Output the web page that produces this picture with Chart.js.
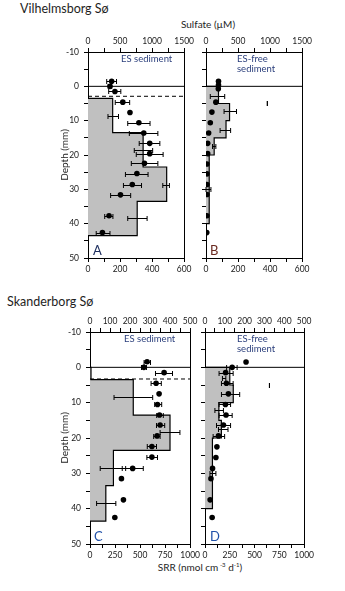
<!DOCTYPE html>
<html><head><meta charset="utf-8">
<script src="https://cdn.jsdelivr.net/npm/chart.js@4.4.1/dist/chart.umd.min.js"></script>
<style>
body{margin:0;background:#fff;width:345px;height:591px;position:relative;overflow:hidden;font-family:Lato,'Open Sans',sans-serif;}
canvas{position:absolute;}
.t{position:absolute;white-space:nowrap;color:#1e1e1e;line-height:1;}
.lbl{position:absolute;white-space:nowrap;color:#2b3f7c;font-size:9.5px;line-height:1;}
.let{position:absolute;font-size:13px;line-height:1;}
</style></head><body>
<div class="t" style="left:20px;top:3px;font-size:12.5px;">Vilhelmsborg Sø</div>
<div class="t" style="left:180px;top:19px;font-size:10px;width:56px;text-align:center;">Sulfate (µM)</div>
<div class="t" style="left:7px;top:296px;font-size:12.5px;">Skanderborg Sø</div>
<div class="t" style="left:150px;top:562px;font-size:10px;width:100px;text-align:center;">SRR (nmol cm<sup style="font-size:6px;vertical-align:4px;"> -3</sup> d<sup style="font-size:6px;vertical-align:4px;">-1</sup>)</div>

<canvas id="cA" width="141" height="250" style="left:55px;top:30px;"></canvas>
<canvas id="cB" width="118" height="250" style="left:196px;top:30px;"></canvas>
<canvas id="cC" width="147" height="256" style="left:55px;top:310px;"></canvas>
<canvas id="cD" width="121" height="256" style="left:195px;top:310px;"></canvas>

<div class="lbl" style="left:121px;top:54px;">ES sediment</div>
<div class="lbl" style="left:237px;top:54px;">ES-free</div>
<div class="lbl" style="left:237px;top:64px;">sediment</div>
<div class="lbl" style="left:124px;top:334px;">ES sediment</div>
<div class="lbl" style="left:237px;top:334px;">ES-free</div>
<div class="lbl" style="left:237px;top:344px;">sediment</div>
<div class="let" style="left:93px;top:244px;color:#1f3060;">A</div>
<div class="let" style="left:210px;top:244px;color:#6a2a20;">B</div>
<div class="let" style="left:94px;top:530px;color:#2050a8;">C</div>
<div class="let" style="left:210px;top:530px;color:#2050a8;">D</div>

<script>
// ---------- Vilhelmsborg Sø, ES sediment (A) ----------
const vesDepth   = [-1.5, 0, 1.5, 4.6, 7.6, 10.6, 13.6, 16.6, 19.6, 22.4, 25.4, 28.6, 31.6, 37.7, 42.6];
const vesSulfate = [369, 343, 420, 543, 655, 794, 870, 963, 963, 881, 763, 691, 507, 328, 225];
const vesErrDepth = [-1.5, 0, 1.5, 4.6, 8.6, 10.6, 13.6, 16.6, 18.4, 19.6, 22.4, 25.4, 28.6, 28.6, 31.6, 37.7, 38.4, 42.6];
const vesErrLow   = [292, 315, 323, 425, 312, 620, 645, 799, 722, 753, 676, 584, 553, 1167, 353, 261, 620, 128];
const vesErrHigh  = [445, 370, 512, 650, 476, 968, 1090, 1121, 1009, 1172, 1090, 937, 835, 1270, 666, 389, 922, 343];
const vesSrrTop    = [3.5, 13.5, 23.5, 33.5];
const vesSrrBottom = [13.5, 23.5, 33.5, 43.5];
const vesSrr       = [154, 344, 491, 307];
const vesLayerDepth = 2.9;

// ---------- Vilhelmsborg Sø, ES-free sediment (B) ----------
const vfDepth   = [-1.5, -0.4, 0.7, 4.6, 7.5, 10.6, 13.6, 16.6, 19.6, 22.6, 25.5, 28.6, 31.5, 37.7, 42.6];
const vfSulfate = [195, 195, 192, 154, 92, 67, 41, 26, 26, 15, 15, 15, 15, 15, 12];
const vfErrDepth = [2.7, 7.3, 12.8, 17.5, 30.0, 4.9];
const vfErrLow   = [67, 282, 220, 102, 0, 957];
const vfErrHigh  = [292, 476, 384, 154, 77, 957];
const vfSrrTop    = [0, 5, 10, 15, 20];
const vfSrrBottom = [5, 10, 15, 20, 40];
const vfSrr       = [78, 147, 125, 51, 20];

// ---------- Skanderborg Sø, ES sediment (C) ----------
const sesDepth   = [-1.6, 0, 1.5, 4.5, 7.5, 10.5, 13.5, 16.3, 19.4, 22.4, 25.4, 28.6, 31.5, 37.5, 42.5];
const sesSulfate = [285, 269, 370, 330, 345, 337, 347, 350, 335, 309, 309, 213, 157, 167, 124];
const sesErrDepth = [-1.6, 0, 1.5, 4.5, 8.3, 10.5, 13.5, 16.3, 18.3, 19.4, 22.4, 25.4, 28.6, 28.6, 38.5];
const sesErrLow   = [270, 257, 327, 305, 120, 323, 333, 332, 350, 318, 286, 284, 51, 161, 33];
const sesErrHigh  = [302, 282, 412, 356, 313, 358, 366, 373, 449, 350, 332, 337, 178, 266, 129];
const sesSrrTop    = [0, 3.5, 13.5, 23.5, 33.5];
const sesSrrBottom = [3.5, 13.5, 23.5, 33.5, 43.5];
const sesSrr       = [10, 432, 799, 234, 158];
const sesLayerDepth = 3.3;

// ---------- Skanderborg Sø, ES-free sediment (D) ----------
const sfDepth   = [-1.5, 0, 1.5, 4.5, 7.5, 10.5, 13.5, 16.3, 19.4, 22.5, 25.5, 28.6, 31.5, 37.5, 42.5];
const sfSulfate = [207, 137, 104, 108, 118, 103, 106, 93, 68, 60, 55, 38, 30, 26, 36];
const sfErrDepth = [0, 1.5, 3.0, 4.5, 7.5, 10.5, 12.2, 13.5, 16.3, 17.4, 19.4, 29.8, 5.0];
const sfErrLow   = [109, 71, 88, 83, 83, 71, 50, 71, 58, 68, 41, 25, 325];
const sfErrHigh  = [162, 142, 105, 142, 175, 129, 93, 137, 129, 116, 99, 55, 325];
const sfSrrTop    = [0, 5, 10, 15, 20];
const sfSrrBottom = [5, 10, 15, 20, 40];
const sfSrr       = [250, 285, 140, 165, 75];

// axis ranges / tick labels
const depthRange = [-10, 50];
const vilSulfateTicks = {max: 1500, step: 250, label: 500};
const vilSrrTicks     = {max: 600, step: 100, label: 200};
const skaSulfateTicks = {max: 500, step: 50, label: 100};
const skaSrrTicks     = {max: 1000, step: 125, label: 250};

const FONT = "Lato, 'Open Sans', sans-serif";
const INK = '#1a1a1a';

const errPlugin = {
  id: 'errbars',
  afterDatasetsDraw(chart, args, opts) {
    const xs = chart.scales.sul, ys = chart.scales.y, ctx = chart.ctx;
    ctx.save();
    ctx.strokeStyle = '#000'; ctx.lineWidth = 1;
    for (let i = 0; i < opts.depth.length; i++) {
      const y = Math.round(ys.getPixelForValue(opts.depth[i])) + 0.5;
      const x1 = xs.getPixelForValue(opts.lo[i]), x2 = xs.getPixelForValue(opts.hi[i]);
      ctx.beginPath();
      ctx.moveTo(x1, y); ctx.lineTo(x2, y);
      ctx.moveTo(x1, y - 2.5); ctx.lineTo(x1, y + 2.5);
      ctx.moveTo(x2, y - 2.5); ctx.lineTo(x2, y + 2.5);
      ctx.stroke();
    }
    ctx.restore();
  }
};
const framePlugin = {
  id: 'frame',
  afterDraw(chart) {
    const a = chart.chartArea, ctx = chart.ctx;
    ctx.save(); ctx.strokeStyle = '#000'; ctx.lineWidth = 1;
    ctx.beginPath();
    ctx.moveTo(Math.round(a.right) + 0.5, a.top); ctx.lineTo(Math.round(a.right) + 0.5, a.bottom);
    ctx.stroke(); ctx.restore();
  }
};

function stepPoints(tops, bottoms, vals) {
  const pts = [{x: 0, y: tops[0]}];
  for (let i = 0; i < vals.length; i++) {
    pts.push({x: vals[i], y: tops[i]});
    pts.push({x: vals[i], y: bottoms[i]});
  }
  pts.push({x: 0, y: bottoms[bottoms.length - 1]});
  return pts;
}

function makePanel(id, p) {
  const datasets = [
    {
      data: p.depth.map((d, i) => ({x: p.sulfate[i], y: d})),
      xAxisID: 'sul', yAxisID: 'y', showLine: false,
      pointRadius: 2.8, pointBackgroundColor: '#000', pointBorderColor: '#000', pointBorderWidth: 0, order: 0
    },
    {
      data: [{x: 0, y: 0}, {x: p.srrTicks.max, y: 0}],
      xAxisID: 'srr', yAxisID: 'y', borderColor: '#000', borderWidth: 1, pointRadius: 0, fill: false, order: 1
    },
    {
      data: stepPoints(p.srrTop, p.srrBottom, p.srr),
      xAxisID: 'srr', yAxisID: 'y', borderColor: '#000', borderWidth: 1.2,
      backgroundColor: '#c0c0c0', pointRadius: 0, fill: 'origin', tension: 0, order: 3
    }
  ];
  if (p.layer != null) {
    datasets.push({
      data: [{x: 0, y: p.layer}, {x: p.srrTicks.max, y: p.layer}],
      xAxisID: 'srr', yAxisID: 'y', borderColor: '#000', borderWidth: 1, borderDash: [4, 3],
      pointRadius: 0, fill: false, order: 2
    });
  }
  const tickFont = {family: FONT, size: 8.5};
  const gridOpt = {drawOnChartArea: false, drawTicks: true, tickLength: 4, color: '#000', lineWidth: 1};
  const borderOpt = {display: true, color: '#000', width: 1};
  const labelCb = every => v => (Math.abs(v % every) < 1e-6 ? String(v) : '');
  new Chart(document.getElementById(id), {
    type: 'line',
    data: {datasets},
    options: {
      indexAxis: 'y',
      responsive: false, animation: false, events: [],
      layout: {padding: {right: p.padR, left: 0, top: 0, bottom: 0}},
      plugins: {legend: {display: false}, tooltip: {enabled: false},
                errbars: {depth: p.errDepth, lo: p.errLo, hi: p.errHi}},
      scales: {
        y: {
          type: 'linear', position: 'left', reverse: true, min: depthRange[0], max: depthRange[1],
          ticks: {stepSize: 5, autoSkip: false, padding: 5, color: INK, font: tickFont,
                  callback: p.depthLabels ? labelCb(10) : () => ''},
          grid: gridOpt, border: borderOpt,
          title: {display: p.depthLabels, text: 'Depth (mm)', color: INK,
                  font: {family: FONT, size: 10}, padding: {top: 4, bottom: 0}},
          afterFit: s => { s.width = p.yW; }
        },
        sul: {
          type: 'linear', axis: 'x', position: 'top', min: 0, max: p.sulTicks.max,
          ticks: {stepSize: p.sulTicks.step, autoSkip: false, maxRotation: 0, padding: 2, color: INK, font: tickFont,
                  callback: labelCb(p.sulTicks.label)},
          grid: gridOpt, border: borderOpt,
          afterFit: s => { s.height = p.topH; }
        },
        srr: {
          type: 'linear', axis: 'x', position: 'bottom', min: 0, max: p.srrTicks.max,
          ticks: {stepSize: p.srrTicks.step, autoSkip: false, maxRotation: 0, padding: 2, color: INK, font: tickFont,
                  callback: labelCb(p.srrTicks.label)},
          grid: gridOpt, border: borderOpt,
          afterFit: s => { s.height = p.bottomH; }
        }
      }
    },
    plugins: [errPlugin, framePlugin]
  });
}

makePanel('cA', {depth: vesDepth, sulfate: vesSulfate, errDepth: vesErrDepth, errLo: vesErrLow, errHi: vesErrHigh,
  srrTop: vesSrrTop, srrBottom: vesSrrBottom, srr: vesSrr, layer: vesLayerDepth,
  sulTicks: vilSulfateTicks, srrTicks: vilSrrTicks, depthLabels: true, yW: 33, topH: 22, bottomH: 22, padR: 10});
makePanel('cB', {depth: vfDepth, sulfate: vfSulfate, errDepth: vfErrDepth, errLo: vfErrLow, errHi: vfErrHigh,
  srrTop: vfSrrTop, srrBottom: vfSrrBottom, srr: vfSrr, layer: null,
  sulTicks: vilSulfateTicks, srrTicks: vilSrrTicks, depthLabels: false, yW: 10, topH: 22, bottomH: 22, padR: 10});
makePanel('cC', {depth: sesDepth, sulfate: sesSulfate, errDepth: sesErrDepth, errLo: sesErrLow, errHi: sesErrHigh,
  srrTop: sesSrrTop, srrBottom: sesSrrBottom, srr: sesSrr, layer: sesLayerDepth,
  sulTicks: skaSulfateTicks, srrTicks: skaSrrTicks, depthLabels: true, yW: 35, topH: 22, bottomH: 22, padR: 10});
makePanel('cD', {depth: sfDepth, sulfate: sfSulfate, errDepth: sfErrDepth, errLo: sfErrLow, errHi: sfErrHigh,
  srrTop: sfSrrTop, srrBottom: sfSrrBottom, srr: sfSrr, layer: null,
  sulTicks: skaSulfateTicks, srrTicks: skaSrrTicks, depthLabels: false, yW: 10, topH: 22, bottomH: 22, padR: 10});
</script>
</body></html>
